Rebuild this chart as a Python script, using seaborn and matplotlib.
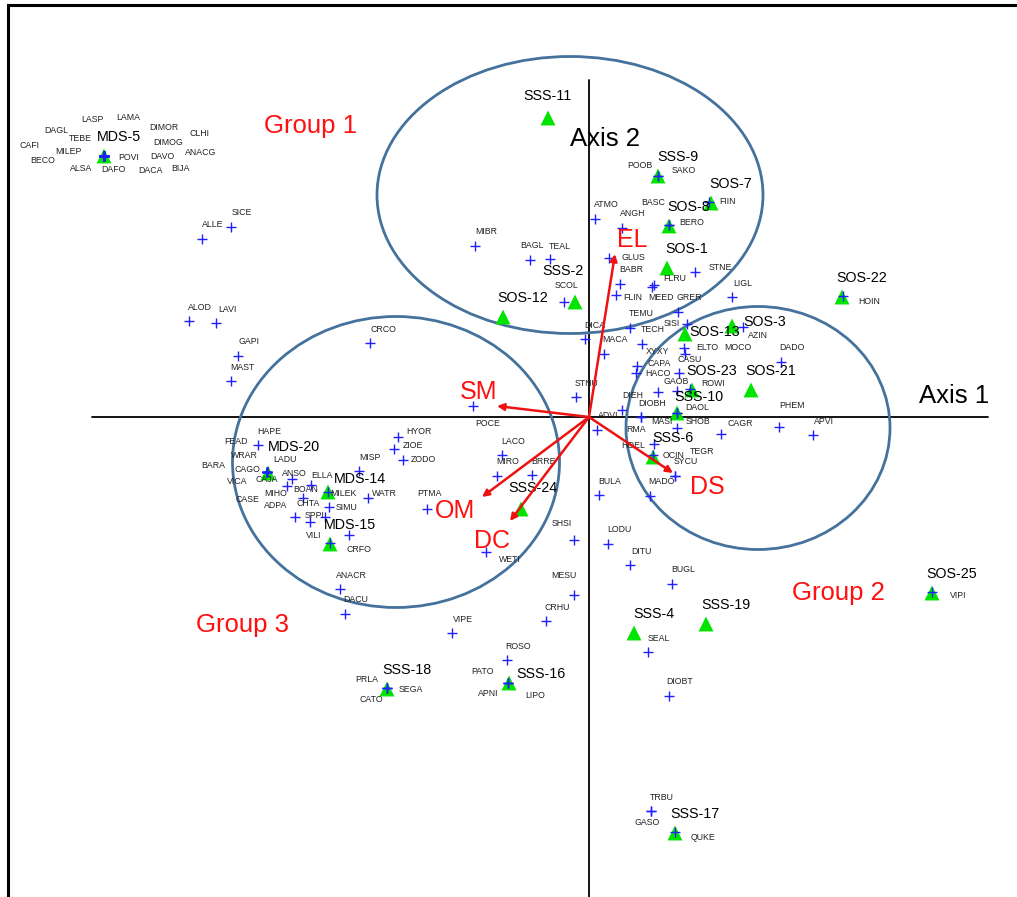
import matplotlib
matplotlib.use("Agg")
import matplotlib.pyplot as plt
from matplotlib.patches import Ellipse
import seaborn as sns
import pandas as pd

# ---------------- data (ordination scores) ----------------
species_names = [
    "LASP", "LAMA", "DAGL", "TEBE", "DIMOR", "CLHI", "CAFI", "MILEP", "BECO", "POVI",
    "DIMOG", "DAVO", "ANACG", "ALSA", "DAFO", "DACA", "BIJA",
    "SICE", "ALLE", "ALOD", "LAVI", "GAPI", "MAST", "CRCO", "MIBR", "BAGL", "TEAL",
    "SCOL", "ATMO", "ANGH", "POOB", "SAKO", "BASC", "BERO", "FIIN", "GLUS", "BABR",
    "FLRU", "MEED", "FLIN", "STNE", "GRER", "LIGL", "HOIN", "TEMU", "SISI", "DICA",
    "TECH", "MACA", "AZIN", "ELTO", "MOCO", "CASU", "XYXY", "CAPA", "HACO", "GAOB",
    "ROWI", "DAOL", "SHOB", "DADO", "PHEM", "APVI", "CAGR", "MASI", "STNU", "DIEH",
    "DIOBH", "ADVI", "RMA", "HOEL", "OCIN", "TEGR", "SYCU", "MADO", "BULA", "POCE",
    "LACO", "MIRO", "BRRE", "PTMA", "WETI", "SHSI", "LODU", "DITU", "BUGL", "MESU",
    "CRHU", "VIPE", "ROSO", "PATO", "APNI", "LIPO", "SEAL", "DIOBT", "TRBU", "GASO",
    "QUKE", "VIPI", "ANACR", "DACU", "PRLA", "SEGA", "CATO", "HAPE",
    "FEAD", "WRAR", "CAGO", "BARA", "VICA", "CAJA", "LADU", "CASE",
    "ANSO", "MIHO", "ELLA", "BOAN", "ADPA", "CHTA", "SPPI", "MILEK", "SIMU", "WATR",
    "MISP", "HYOR", "ZIOE", "ZODO", "VILI", "CRFO",
]
species_x = [
    -4.85, -4.85, -4.85, -4.85, -4.85, -4.85, -4.85, -4.85, -4.85, -4.85,
    -4.85, -4.85, -4.85, -4.85, -4.85, -4.85, -4.85,
    -3.58, -3.87, -4.00, -3.73, -3.51, -3.58, -2.19, -1.14, -0.59, -0.39,
    -0.25, 0.06, 0.33, 0.69, 0.69, 0.80, 0.80, 1.20, 0.20, 0.31,
    0.65, 0.63, 0.27, 1.06, 0.89, 1.43, 2.54, 0.41, 0.98, -0.04,
    0.53, 0.15, 1.54, 0.95, 0.96, 0.90, 0.48, 0.47, 0.69, 0.88,
    1.01, 0.88, 0.88, 1.92, 1.90, 2.24, 1.32, 0.88, -0.13, 0.33,
    0.52, 0.08, 0.52, 0.65, 0.64, 0.86, 0.86, 0.61, 0.10, -1.16,
    -0.87, -0.92, -0.57, -1.62, -1.03, -0.15, 0.19, 0.41, 0.83, -0.15,
    -0.43, -1.37, -0.82, -0.81, -0.81, -0.81, 0.59, 0.80, 0.62, 0.62,
    0.86, 3.43, -2.49, -2.44, -2.02, -2.02, -2.02, -3.31,
    -3.22, -3.22, -3.22, -3.22, -3.22, -3.22, -3.22, -3.22,
    -2.97, -3.02, -2.78, -2.86, -2.94, -2.79, -2.64, -2.61, -2.60, -2.21,
    -2.30, -1.91, -1.95, -1.86, -2.59, -2.40,
]
species_y = [
    2.61, 2.61, 2.61, 2.61, 2.61, 2.61, 2.61, 2.61, 2.61, 2.61,
    2.61, 2.61, 2.61, 2.61, 2.61, 2.61, 2.61,
    1.90, 1.78, 0.96, 0.94, 0.61, 0.36, 0.74, 1.71, 1.57, 1.58,
    1.15, 1.98, 1.89, 2.41, 2.41, 1.92, 1.92, 2.15, 1.59, 1.33,
    1.32, 1.30, 1.22, 1.45, 1.05, 1.20, 1.21, 0.89, 0.93, 0.78,
    0.73, 0.63, 0.90, 0.69, 0.63, 0.44, 0.51, 0.44, 0.25, 0.26,
    0.28, 0.04, 0.04, 0.55, -0.10, -0.18, -0.17, -0.11, 0.20, 0.07,
    0.00, -0.13, 0.00, -0.27, -0.38, -0.59, -0.59, -0.79, -0.78, 0.11,
    -0.38, -0.59, -0.58, -0.92, -1.35, -1.23, -1.27, -1.48, -1.67, -1.78,
    -2.04, -2.16, -2.43, -2.66, -2.66, -2.66, -2.35, -2.79, -3.94, -3.94,
    -4.15, -1.75, -1.72, -1.97, -2.71, -2.71, -2.71, -0.28,
    -0.55, -0.55, -0.55, -0.55, -0.55, -0.55, -0.55, -0.55,
    -0.62, -0.69, -0.68, -0.81, -1.00, -1.05, -1.00, -0.75, -0.90, -0.81,
    -0.54, -0.20, -0.32, -0.43, -1.26, -1.18,
]

site_names = ["MDS-5", "SSS-11", "SSS-9", "SOS-7", "SOS-8", "SOS-1", "SSS-2", "SOS-12",
              "SOS-22", "SOS-13", "SOS-3", "SOS-23", "SOS-21", "SSS-10", "SSS-6", "SSS-24",
              "MDS-20", "MDS-14", "MDS-15", "SSS-18", "SSS-16", "SSS-4", "SSS-19", "SOS-25",
              "SSS-17"]
site_x = [-4.85, -0.41, 0.69, 1.22, 0.80, 0.78, -0.14, -0.86,
          2.53, 0.96, 1.43, 1.03, 1.62, 0.88, 0.64, -0.68,
          -3.21, -2.61, -2.59, -2.02, -0.80, 0.45, 1.17, 3.43,
          0.86]
site_y = [2.61, 2.99, 2.41, 2.14, 1.91, 1.49, 1.15, 1.00,
          1.20, 0.83, 0.91, 0.27, 0.27, 0.04, -0.40, -0.92,
          -0.56, -0.75, -1.27, -2.72, -2.66, -2.16, -2.07, -1.76,
          -4.16]

env_names = ["EL", "SM", "OM", "DC", "DS"]
env_x = [0.26, -0.92, -1.07, -0.79, 0.84]
env_y = [1.63, 0.11, -0.80, -1.04, -0.56]

group_names = ["Group 1", "Group 2", "Group 3"]
group_cx = [-0.19, 1.69, -1.93]
group_cy = [2.22, -0.11, -0.45]
group_w = [3.86, 2.64, 3.27]
group_h = [2.77, 2.43, 2.91]

# ---------------- layout (label offsets in pixels) ----------------
species_label_off = {
    "LASP": (-12, 36), "LAMA": (24, 38), "DAGL": (-48, 25), "TEBE": (-24, 17),
    "DIMOR": (60, 28), "CLHI": (95, 22), "CAFI": (-75, 10), "MILEP": (-36, 4),
    "BECO": (-61, -5), "POVI": (25, -2), "DIMOG": (64, 13), "DAVO": (58, -1),
    "ANACG": (97, 3), "ALSA": (-23, -13), "DAFO": (9, -14), "DACA": (46, -15),
    "BIJA": (76, -13),
    "POOB": (-18, 10), "SAKO": (26, 5), "BASC": (-16, 22), "BERO": (23, 2),
    "FIIN": (18, 0), "GLUS": (24, 0), "FLRU": (21, 6), "MEED": (9, -10),
    "FLIN": (17, -2), "STNE": (25, 5), "HOIN": (26, -5), "SISI": (-15, 1),
    "AZIN": (15, -8), "ELTO": (23, 1), "MOCO": (53, 7), "XYXY": (21, 14),
    "CAPA": (23, 10), "HACO": (0, 19), "GAOB": (-1, 9), "ROWI": (23, 5),
    "DAOL": (20, 6), "SHOB": (21, -8), "PHEM": (13, 22), "CAGR": (19, 10),
    "MASI": (-15, 6), "RMA": (-5, -12), "HOEL": (-21, -2), "OCIN": (21, 0),
    "TEGR": (27, 24), "POCE": (15, -18), "PTMA": (2, 16), "WETI": (24, -7),
    "SHSI": (-12, 16), "MESU": (-10, 20), "PATO": (-25, 12), "APNI": (-20, -10),
    "LIPO": (27, -12), "GASO": (-4, -11), "QUKE": (28, -5), "VIPI": (26, -3),
    "PRLA": (-20, 9), "SEGA": (24, -1), "CATO": (-16, -12),
    "FEAD": (-31, 30), "WRAR": (-23, 16), "CAGO": (-20, 3), "BARA": (-54, 6),
    "VICA": (-30, -9), "CAJA": (0, -8), "LADU": (18, 12), "CASE": (-20, -28),
    "ANSO": (2, 5), "MIHO": (-11, -7), "ELLA": (11, 10), "BOAN": (3, 9),
    "ADPA": (-19, 12), "CHTA": (-2, 19), "SPPI": (-10, 2), "MILEK": (15, -2),
    "SIMU": (18, -1), "WATR": (16, 5), "HYOR": (21, 6), "ZIOE": (19, 4),
    "ZODO": (20, 1), "VILI": (-16, 7), "CRFO": (10, -14), "BAGL": (2, 14),
    "SCOL": (3, 16), "TEAL": (10, 12), "CRCO": (13, 13), "DICA": (10, 14),
}
site_label_off = {
    "MDS-5": (15, 19), "SSS-11": (-1, 22), "SSS-2": (-12, 31), "SOS-13": (30, 2),
    "SOS-3": (33, 4), "MDS-20": (26, 26), "MDS-14": (32, 13), "SSS-16": (32, 9),
    "SSS-24": (12, 21), "SSS-10": (22, 16),
}
env_label_off = {"EL": (17, 14), "SM": (-18, 14), "OM": (-27, -14),
                 "DC": (-18, -20), "DS": (34, -14)}

species_df = pd.DataFrame({"name": species_names, "x": species_x, "y": species_y})
site_df = pd.DataFrame({"name": site_names, "x": site_x, "y": site_y})

sns.set_theme(style="white")
plt.rcParams["font.family"] = ["Liberation Sans", "DejaVu Sans"]

fig = plt.figure(figsize=(10.17, 8.97), dpi=100)
ax = fig.add_axes([0, 0, 1, 1])
ax.set_xlim(-5.89, 4.28)
ax.set_ylim(-4.80, 4.17)
ax.axis("off")

# frame (left and top)
ax.plot([-5.81, -5.81, 4.28], [-4.80, 4.12, 4.12], color="black", lw=2.2,
        solid_joinstyle="miter", zorder=1)

# axes
ax.plot([-4.97, 3.99], [0, 0], color="black", lw=1.3, zorder=2)
ax.plot([0, 0], [-4.80, 3.37], color="black", lw=1.3, zorder=2)
ax.text(0.16, 2.78, "Axis 2", fontsize=18.5, ha="center", va="center", color="black")
ax.text(3.65, 0.21, "Axis 1", fontsize=18.5, ha="center", va="center", color="black")

# ellipses
for cx, cy, w, h in zip(group_cx, group_cy, group_w, group_h):
    ax.add_patch(Ellipse((cx, cy), w, h, fill=False, edgecolor="#44729c", lw=2.0, zorder=3))

group_pos = {"Group 1": (-2.78, 2.91), "Group 2": (2.49, -1.76), "Group 3": (-3.47, -2.08)}
for g in group_names:
    ax.text(*group_pos[g], g, fontsize=18.5, color="#ff1010", ha="center", va="center")

# sites
sns.scatterplot(data=site_df, x="x", y="y", marker="^", s=115, color="#00e400",
                edgecolor="none", linewidth=0, ax=ax, zorder=4, legend=False)
for n, x, y in zip(site_names, site_x, site_y):
    dx, dy = site_label_off.get(n, (20, 19))
    ax.annotate(n, (x, y), xytext=(dx, dy), textcoords="offset pixels",
                fontsize=10.3, ha="center", va="center", color="black", zorder=6)

# species
sns.scatterplot(data=species_df, x="x", y="y", marker="+", s=55, color="#1f1fff",
                linewidth=1.0, ax=ax, zorder=5, legend=False)
for n, x, y in zip(species_names, species_x, species_y):
    dx, dy = species_label_off.get(n, (11, 14))
    ax.annotate(n, (x, y), xytext=(dx, dy), textcoords="offset pixels",
                fontsize=6.3, ha="center", va="center", color="#222222", zorder=6)

# environmental vectors
for n, x, y in zip(env_names, env_x, env_y):
    ax.annotate("", xy=(x, y), xytext=(0, 0),
                arrowprops=dict(arrowstyle="-|>", color="#ee1111", lw=1.8,
                                mutation_scale=10, shrinkA=0, shrinkB=0), zorder=7)
    dx, dy = env_label_off[n]
    ax.annotate(n, (x, y), xytext=(dx, dy), textcoords="offset pixels",
                fontsize=18, ha="center", va="center", color="#ff1010", zorder=8)

fig.savefig("out.png", dpi=100)
